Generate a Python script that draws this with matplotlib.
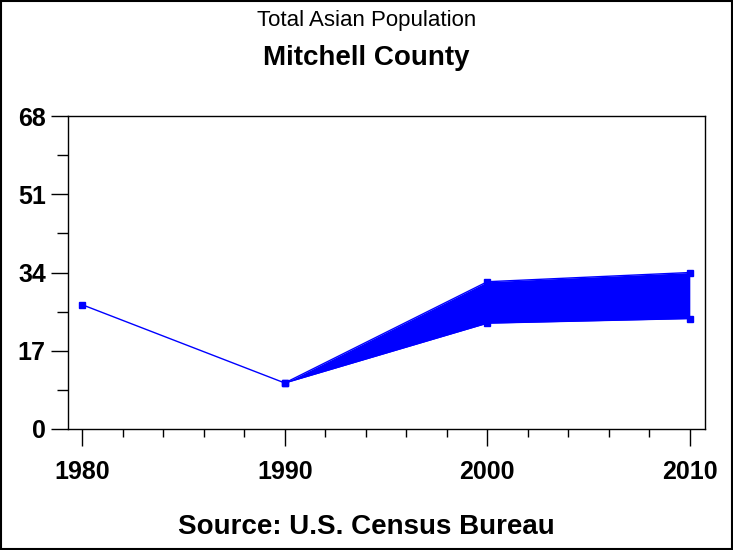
"""
Total Asian Population - Mitchell County
"""

import matplotlib.pyplot as plt
from matplotlib.patches import Rectangle

years = [1980, 1990, 2000, 2010]
pop_low = [27, 10, 23, 24]
pop_high = [27, 10, 32, 34]

y_ticks = [0, 17, 34, 51, 68]
x_ticks = [1980, 1990, 2000, 2010]

plt.rcParams["font.family"] = ["Liberation Sans", "DejaVu Sans"]

fig = plt.figure(figsize=(7.33, 5.5), dpi=100)
ax = fig.add_axes([0.0928, 0.22, 0.869, 0.569])

blue = "#0000ff"
ax.fill_between(years[1:], pop_low[1:], pop_high[1:], color=blue, linewidth=0)
ax.plot(years, pop_low, color=blue, linewidth=1, marker="s", markersize=4)
ax.plot(years[1:], pop_high[1:], color=blue, linewidth=1, marker="s", markersize=4)

ax.set_xlim(1979.3, 2010.75)
ax.set_ylim(0, 68)
ax.set_yticks(y_ticks)
ax.set_yticks([8.5, 25.5, 42.5, 59.5], minor=True)
ax.set_xticks(x_ticks)
ax.set_xticks([y for y in range(1980, 2011, 2) if y not in x_ticks], minor=True)
ax.tick_params(axis="both", which="major", length=12, width=1, labelsize=18, pad=4)
ax.tick_params(axis="both", which="minor", length=6, width=1)
ax.tick_params(axis="y", which="minor", length=8)
ax.tick_params(axis="x", which="major", pad=10)
for lbl in ax.get_xticklabels() + ax.get_yticklabels():
    lbl.set_fontweight("bold")
for s in ax.spines.values():
    s.set_linewidth(1)

fig.text(0.5, 0.963, "Total Asian Population", ha="center", va="center", fontsize=16)
fig.text(0.5, 0.895, "Mitchell County", ha="center", va="center", fontsize=20, fontweight="bold")
fig.text(0.5, 0.042, "Source: U.S. Census Bureau", ha="center", va="center", fontsize=20, fontweight="bold")

fig.patches.append(Rectangle((0.001, 0.001), 0.997, 0.997, transform=fig.transFigure,
                             fill=False, edgecolor="black", linewidth=1.5))

plt.savefig("out.png", dpi=100)
